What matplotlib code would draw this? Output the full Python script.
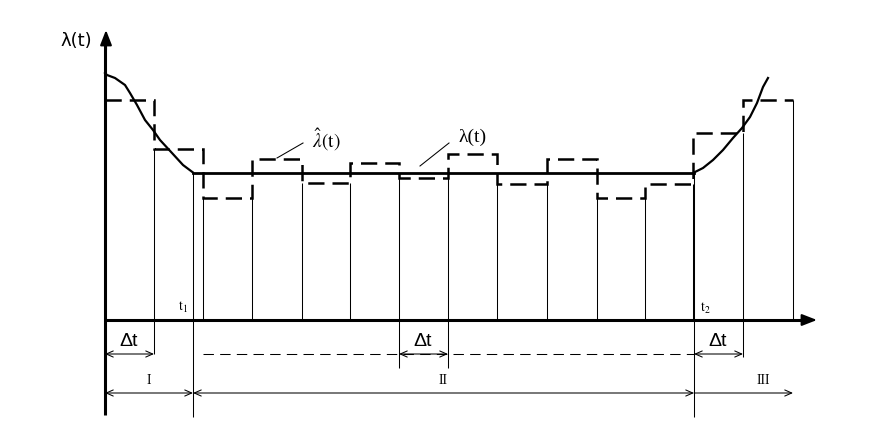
"""Piecewise-constant estimate of the failure rate over the three periods."""

import matplotlib
matplotlib.use("Agg")
import matplotlib.pyplot as plt  # noqa: E402

# step edges (t) and the estimated rate on each Δt interval
edges = [0, 49, 98, 147, 197, 245, 294, 343, 392, 442, 492, 540, 588, 638, 688]
lam_hat = [220, 171, 122, 161, 137, 157, 142, 166, 136, 161, 122, 136, 187, 220]

# true rate: run-in part, flat part, wear-out part
t1, t2 = 88, 589
lam_flat = 147.5
run_in_t = [0, 2, 10, 20, 25, 32, 40, 48, 55, 67, 78, 88]
run_in_l = [247, 245, 242, 235, 227, 215, 200, 190, 180, 167, 155, 147.5]
wear_t = [589, 598, 608, 618, 628, 637, 645, 652, 658, 663]
wear_l = [147.5, 152, 160, 170, 182, 192, 203, 217, 233, 242]

region_labels = ["I", "II", "III"]
region_spans = [(0, t1), (t1, t2), (t2, 688)]

K = "black"
THICK = 2.2
THIN = 0.75

plt.rcParams["mathtext.fontset"] = "stix"

fig = plt.figure(figsize=(8.85, 4.28), dpi=100)
ax = fig.add_axes([0, 0, 1, 1])
ax.set_xlim(-105, 780)
ax.set_ylim(-108, 320)
ax.axis("off")

# axes with arrows
ax.plot([0, 0], [-95, 280], color=K, lw=THICK, solid_capstyle="butt")
ax.annotate("", xy=(1, 290), xytext=(1, 270),
            arrowprops=dict(arrowstyle="-|>,head_length=0.9,head_width=0.35",
                            color=K, lw=1.5, shrinkA=0, shrinkB=0))
ax.plot([0, 700], [0, 0], color=K, lw=THICK, solid_capstyle="butt")
ax.annotate("", xy=(712, 0), xytext=(695, 0),
            arrowprops=dict(arrowstyle="-|>,head_length=0.9,head_width=0.35",
                            color=K, lw=1.5, shrinkA=0, shrinkB=0))

# thin verticals of the histogram, up to the lower of the two steps
tops = [min(lam_hat[k - 1], lam_hat[k]) for k in range(1, len(lam_hat))] + [lam_hat[-1]]
ax.vlines(edges[1:], 0, tops, color=K, lw=THIN)
# t1 and t2 lines, down to the bottom
ax.vlines([t1, t2], -97, lam_flat, color=K, lw=THIN)

# estimate (dashed steps)
st = ax.stairs(lam_hat, edges, baseline=None, color=K, lw=1.8)
st.set_linestyle((0, (6.5, 3.2)))

# true rate
ax.plot(run_in_t, run_in_l, color=K, lw=1.6)
ax.plot([t1, t2], [lam_flat, lam_flat], color=K, lw=2.0)
ax.plot(wear_t, wear_l, color=K, lw=1.6)

# labels
ax.text(-29, 279, "λ(t)", fontsize=13, ha="center", va="center",
        family="DejaVu Sans")
ax.text(221, 180, r"$\hat{\lambda}(\mathrm{t})$", fontsize=14, ha="center",
        va="center")
ax.plot([172, 198], [162, 177], color=K, lw=THIN)
ax.text(368, 183, "λ(t)", fontsize=14, ha="center", va="center",
        family="Liberation Serif")
ax.plot([315, 344], [154, 177], color=K, lw=THIN)
ax.text(78, 13, r"$\mathrm{t_1}$", fontsize=10, ha="center", va="center")
ax.text(600, 12, r"$\mathrm{t_2}$", fontsize=10, ha="center", va="center")

# Δt markers below the axis
dt_spans = [(edges[0], edges[1]), (edges[6], edges[7]), (t2, edges[13])]
ax.vlines([edges[1]], -34, 0, color=K, lw=THIN)
ax.vlines([edges[6], edges[7]], -48, 0, color=K, lw=THIN)
ax.vlines([edges[13]], -37, 0, color=K, lw=THIN)
ax.plot([edges[2], t2], [-34, -34], color=K, lw=THIN, ls=(0, (10, 6)))
arr = dict(arrowstyle="<->,head_length=0.5,head_width=0.22", color=K,
           lw=THIN, shrinkA=0, shrinkB=0)
for a, b in dt_spans:
    ax.annotate("", xy=(a, -34), xytext=(b, -34), arrowprops=arr)
    ax.text(a + 24, -22, "Δt", fontsize=14, ha="center", va="center",
            family="Liberation Sans")

# periods I, II, III
for lab, (a, b) in zip(region_labels, region_spans):
    style = arr if lab != "III" else dict(arr, arrowstyle="<-,head_length=0.5,head_width=0.22")
    ax.annotate("", xy=(a, -73), xytext=(b, -73), arrowprops=style)
    ax.text((a + b) / 2 if lab != "III" else 658, -60, lab, fontsize=10,
            ha="center", va="center", family="Liberation Serif")

fig.savefig("out.png", dpi=100)
